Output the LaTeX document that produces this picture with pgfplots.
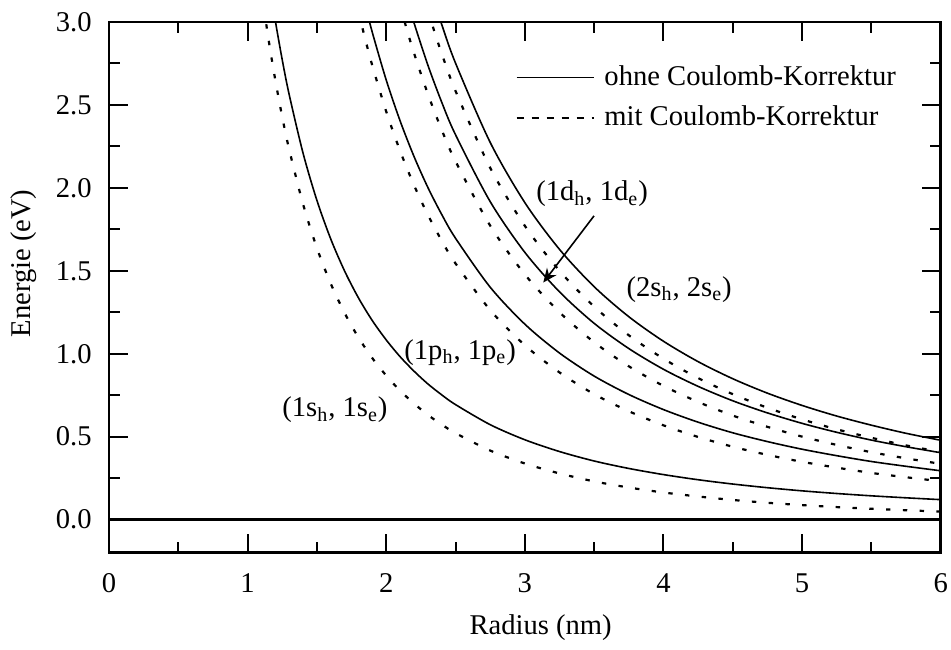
\documentclass[border=0pt]{standalone}
\usepackage{fontspec}
\setmainfont{Liberation Serif}
\usepackage{pgfplots}
\pgfplotsset{compat=1.18}
\usetikzlibrary{arrows.meta}

% exciton pair energies versus dot radius
\pgfplotsset{
  ohne/.style={black, line width=0.8pt, smooth},
  mit/.style={black, line width=1.1pt, dash pattern=on 2.2pt off 6.2pt, smooth},
}

\begin{document}
\fontsize{14.3}{17}\selectfont
\begin{tikzpicture}
\begin{axis}[
  scale only axis,
  width=415.85pt, height=265.35pt,
  xmin=0, xmax=6, ymin=-0.2, ymax=3.0,
  xtick={0,1,...,6},
  ytick={0,0.5,...,3.0},
  minor x tick num=1,
  minor y tick num=1,
  tick align=inside,
  major tick length=9.5pt,
  minor tick length=5.5pt,
  every tick/.style={black, line width=1pt},
  axis line style={line width=1.4pt},
  /pgf/number format/assume math mode=true,
  yticklabel style={/pgf/number format/.cd, fixed, fixed zerofill, precision=1, /tikz/.cd, xshift=-3.7pt},
  xticklabel style={yshift=-5.4pt},
  xlabel={Radius (nm)},
  ylabel={Energie (eV)},
  xlabel style={at={(axis description cs:0.519,-0.142)}, anchor=center},
  ylabel style={at={(axis description cs:-0.102,0.545)}, anchor=center},
  legend style={at={(axis description cs:0.4815,0.857)}, anchor=west,
    draw=none, fill=none, row sep=4.2pt,
    nodes={inner sep=2pt}},
  legend cell align=left,
  legend image code/.code={\draw[#1] (0pt,0pt) -- (38.5pt,0pt); \path (41.5pt,0pt);},
]
% (1s_h, 1s_e)
\addplot[ohne] coordinates {
 (1.15,3.274) (1.2,3.007) (1.25,2.771) (1.3,2.562) (1.4,2.209) (1.5,1.924)
 (1.6,1.691) (1.7,1.498) (1.8,1.336) (1.9,1.199) (2.0,1.083) (2.1,0.982)
 (2.2,0.895) (2.3,0.818) (2.4,0.752) (2.5,0.693) (2.75,0.572) (3.0,0.481)
 (3.25,0.410) (3.5,0.353) (3.75,0.308) (4.0,0.271) (4.25,0.240) (4.5,0.214)
 (4.75,0.192) (5.0,0.173) (5.25,0.157) (5.5,0.143) (5.75,0.131) (6.0,0.120)};
\addlegendentry{ohne Coulomb-Korrektur}
\addplot[mit, legend image post style={dash pattern=on 3.6pt off 3.9pt, line width=0.8pt}] coordinates {
 (1.1,3.187) (1.15,2.900) (1.2,2.649) (1.25,2.427) (1.3,2.231) (1.4,1.902)
 (1.5,1.637) (1.6,1.422) (1.7,1.245) (1.8,1.097) (1.9,0.973) (2.0,0.868)
 (2.1,0.777) (2.2,0.700) (2.3,0.631) (2.4,0.573) (2.5,0.521) (2.75,0.416)
 (3.0,0.338) (3.25,0.278) (3.5,0.230) (3.75,0.193) (4.0,0.163) (4.25,0.139)
 (4.5,0.118) (4.75,0.101) (5.0,0.087) (5.25,0.075) (5.5,0.065) (5.75,0.056) (6.0,0.048)};
\addlegendentry{mit Coulomb-Korrektur}
% (1p_h, 1p_e)
\addplot[ohne, forget plot] coordinates {
 (1.85,3.097) (1.9,2.936) (2.0,2.650) (2.1,2.404) (2.2,2.190) (2.3,2.003)
 (2.4,1.840) (2.5,1.696) (2.75,1.401) (3.0,1.178) (3.25,1.004) (3.5,0.865)
 (3.75,0.754) (4.0,0.663) (4.25,0.587) (4.5,0.523) (4.75,0.470) (5.0,0.424)
 (5.25,0.385) (5.5,0.350) (5.75,0.321) (6.0,0.294)};
\addplot[mit, forget plot] coordinates {
 (1.8,3.060) (1.85,2.892) (1.9,2.736) (2.0,2.460) (2.1,2.223) (2.2,2.017)
 (2.3,1.838) (2.4,1.682) (2.5,1.544) (2.75,1.263) (3.0,1.051) (3.25,0.887)
 (3.5,0.756) (3.75,0.653) (4.0,0.568) (4.25,0.498) (4.5,0.439) (4.75,0.390)
 (5.0,0.348) (5.25,0.313) (5.5,0.281) (5.75,0.255) (6.0,0.231)};
% (1d_h, 1d_e)
\addplot[ohne, forget plot] coordinates {
 (2.15,3.137) (2.2,2.996) (2.3,2.741) (2.4,2.517) (2.5,2.320) (2.75,1.917)
 (3.0,1.611) (3.25,1.373) (3.5,1.183) (3.75,1.031) (4.0,0.906) (4.25,0.803)
 (4.5,0.716) (4.75,0.643) (5.0,0.580) (5.25,0.526) (5.5,0.479) (5.75,0.439) (6.0,0.403)};
\addplot[mit, forget plot] coordinates {
 (2.1,3.099) (2.15,2.951) (2.2,2.814) (2.3,2.567) (2.4,2.350) (2.5,2.160)
 (2.75,1.772) (3.0,1.478) (3.25,1.250) (3.5,1.069) (3.75,0.924) (4.0,0.806)
 (4.25,0.709) (4.5,0.627) (4.75,0.559) (5.0,0.500) (5.25,0.450) (5.5,0.406)
 (5.75,0.369) (6.0,0.336)};
% (2s_h, 2s_e)
\addplot[ohne, forget plot] coordinates {
 (2.35,3.115) (2.4,2.986) (2.5,2.752) (2.75,2.274) (3.0,1.911) (3.25,1.629)
 (3.5,1.404) (3.75,1.223) (4.0,1.075) (4.25,0.952) (4.5,0.849) (4.75,0.762)
 (5.0,0.688) (5.25,0.624) (5.5,0.569) (5.75,0.520) (6.0,0.478)};
\addplot[mit, forget plot] coordinates {
 (2.3,3.068) (2.35,2.936) (2.4,2.811) (2.5,2.584) (2.75,2.121) (3.0,1.771)
 (3.25,1.500) (3.5,1.284) (3.75,1.111) (4.0,0.970) (4.25,0.853) (4.5,0.756)
 (4.75,0.674) (5.0,0.604) (5.25,0.544) (5.5,0.493) (5.75,0.447) (6.0,0.408)};
% zero line
\addplot[black, line width=1.3pt, forget plot] coordinates {(0,0) (6,0)};

\node at (axis cs:1.63,0.66) {(1s\textsubscript{h}, 1s\textsubscript{e})};
\node at (axis cs:2.533,1.009) {(1p\textsubscript{h}, 1p\textsubscript{e})};
\node at (axis cs:3.485,1.963) {(1d\textsubscript{h}, 1d\textsubscript{e})};
\node at (axis cs:4.113,1.388) {(2s\textsubscript{h}, 2s\textsubscript{e})};
\draw[-{Stealth[length=7pt,width=6pt]}, line width=0.8pt]
  (axis cs:3.499,1.831) -- (axis cs:3.133,1.429);
\end{axis}
\pgfresetboundingbox
\useasboundingbox (-54.5pt,-48.15pt) rectangle (421pt,276.35pt);
\end{tikzpicture}
\end{document}
